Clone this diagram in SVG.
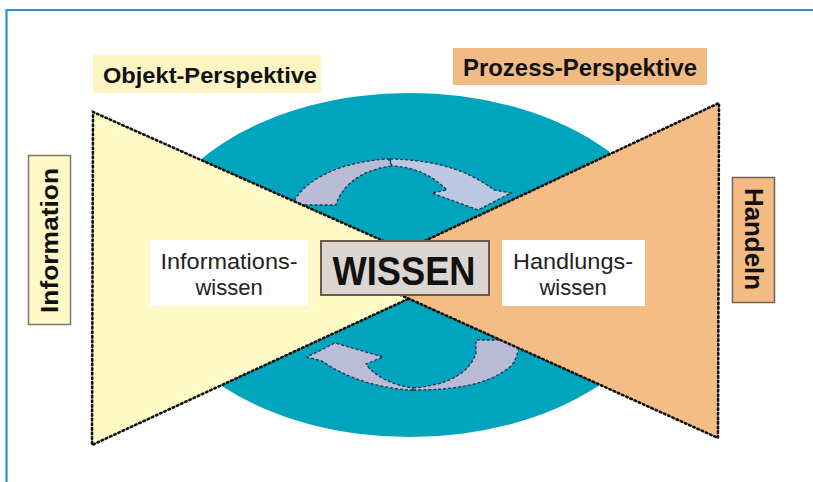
<svg xmlns="http://www.w3.org/2000/svg" width="813" height="482" viewBox="0 0 813 482">
  <style>
    .dots { stroke: #111; stroke-width: 2.6; stroke-dasharray: 1.6 3; stroke-linecap: round; }
    .arrow { stroke: #1f3550; stroke-width: 1.3; stroke-dasharray: 3 2; }
    .bold { font-family: "Liberation Sans", Arial, sans-serif; font-weight: bold; fill: #111; }
    .plain { font-family: "Liberation Sans", Arial, sans-serif; fill: #222; font-size: 22px; text-anchor: middle; }
  </style>

  <rect x="0" y="0" width="813" height="482" fill="#ffffff"/>
  <!-- frame -->
  <path d="M6.5 482 V10 H813" fill="none" stroke="#2c8fd0" stroke-width="2.2"/>

  <!-- background cycle -->
  <ellipse id="cycle" cx="410" cy="265" rx="265" ry="172" fill="#00a4bd"/>

  <!-- circular arrows -->
  <g id="arrows">
    <path class="arrow" fill="#b9bbd7" d="M292 205 C302 182 336 162 388 159 L392 166 C364 169 342 184 336 205 Z"/>
    <path class="arrow" fill="#bcc7e4" d="M390 159 C440 160 470 172 494 190 L511 193 L478 210 L432 193 L447 190 C432 175 414 167 392 166 Z"/>
    <path class="arrow" fill="#bbbdd8" d="M413 390 C380 389 346 378 322 361 L307 357 L335 343 L383 357 L366 364 C374 376 392 385 413 388 Z"/>
    <path class="arrow" fill="#b9bad6" d="M413 390 C455 390 490 385 512 365 C517 358 519 350 519 340 L476 340 L476 353 C470 372 450 385 413 388 Z"/>
  </g>

  <!-- perspectives -->
  <g id="object-side">
    <polygon points="93,112 92,445 460,275" fill="#fffac6"/>
    <polyline class="dots" fill="none" points="460,275 93,112 92,445 460,275"/>
  </g>
  <g id="process-side">
    <polygon points="719,103 718,438 354,274" fill="#f5bd86"/>
    <polyline class="dots" fill="none" points="354,274 719,103 718,438 354,274"/>
  </g>

  <g id="objekt-perspektive">
    <rect x="93" y="55" width="228" height="38" fill="#fdf6c3"/>
    <text class="bold" x="103" y="83" font-size="22" textLength="214" lengthAdjust="spacingAndGlyphs">Objekt-Perspektive</text>
  </g>
  <g id="prozess-perspektive">
    <rect x="453" y="48" width="254" height="37" fill="#f3bb84"/>
    <text class="bold" x="463" y="76" font-size="23" textLength="234" lengthAdjust="spacingAndGlyphs">Prozess-Perspektive</text>
  </g>

  <g id="information">
    <rect x="28.5" y="155.5" width="42" height="169" fill="#fef9c6" stroke="#7a7a72" stroke-width="1.5"/>
    <text class="bold" transform="translate(58 240.5) rotate(-90)" font-size="23" text-anchor="middle" textLength="145" lengthAdjust="spacingAndGlyphs">Information</text>
  </g>
  <g id="handeln">
    <rect x="732.5" y="177.5" width="42" height="125" fill="#f4bb82" stroke="#6e6258" stroke-width="1.5"/>
    <text class="bold" transform="translate(745 239) rotate(90)" font-size="25" text-anchor="middle" textLength="102" lengthAdjust="spacingAndGlyphs">Handeln</text>
  </g>

  <g id="informationswissen">
    <rect x="150" y="240" width="158" height="66" fill="#ffffff"/>
    <text class="plain" x="229" y="269" textLength="137" lengthAdjust="spacingAndGlyphs">Informations-</text>
    <text class="plain" x="229" y="295">wissen</text>
  </g>
  <g id="handlungswissen">
    <rect x="502" y="240" width="143" height="66" fill="#ffffff"/>
    <text class="plain" x="573" y="269" textLength="120" lengthAdjust="spacingAndGlyphs">Handlungs-</text>
    <text class="plain" x="573" y="295">wissen</text>
  </g>

  <g id="wissen">
    <rect x="321" y="241" width="168" height="54" fill="#ddd5cf" stroke="#6b5b4c" stroke-width="2"/>
    <text class="bold" x="404" y="285" font-size="40" text-anchor="middle" textLength="143" lengthAdjust="spacingAndGlyphs">WISSEN</text>
  </g>
</svg>
